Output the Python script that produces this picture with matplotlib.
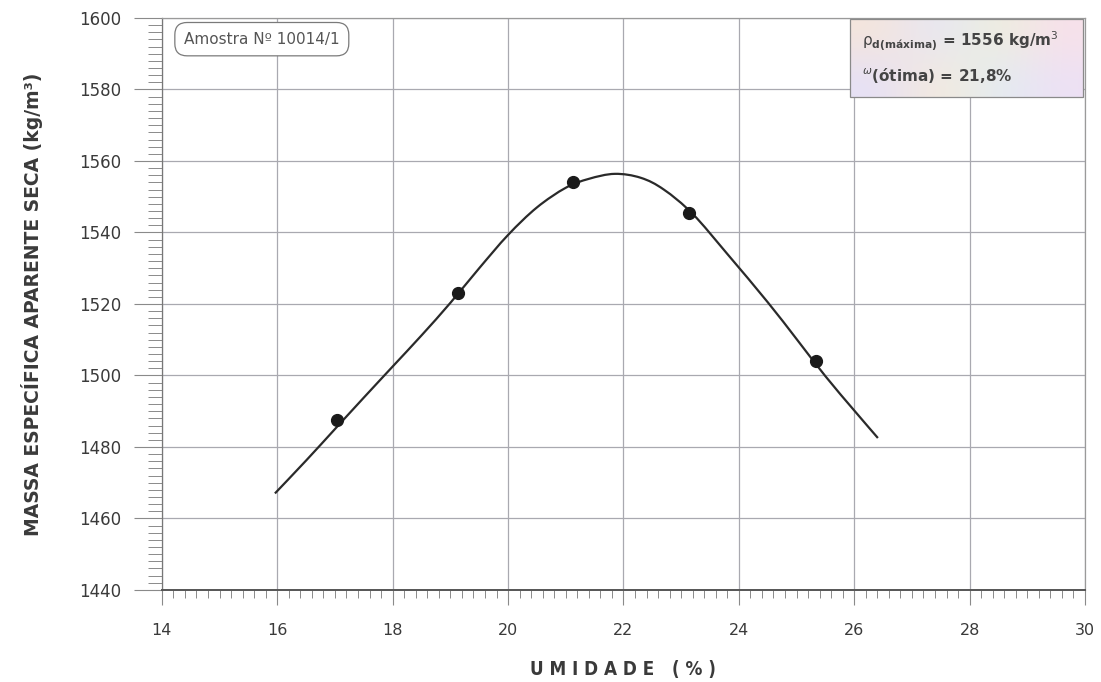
import numpy as np
import matplotlib
matplotlib.use('Agg')
import matplotlib.pyplot as plt
from matplotlib.ticker import MultipleLocator
from matplotlib.path import Path
from matplotlib.patches import PathPatch

# pontos do ensaio (umidade %, massa especifica kg/m3)
umidade = [17.03, 19.13, 21.12, 23.13, 25.33]
massa = [1487.5, 1523.0, 1554.0, 1545.5, 1504.0]

# curva de compactacao
curva_x = [15.96, 16.5, 17.0, 17.5, 18.0, 18.5, 19.0, 19.5, 20.0, 20.5, 21.0, 21.4,
           21.85, 22.3, 22.7, 23.2, 23.8, 24.5, 25.0, 25.5, 26.0, 26.41]
curva_y = [1467.0, 1476.2, 1485.0, 1493.8, 1502.5, 1511.2, 1520.3, 1530.0, 1539.3, 1547.0,
           1552.5, 1555.0, 1556.4, 1555.3, 1552.0, 1545.2, 1534.0, 1520.5, 1510.2, 1499.8,
           1490.2, 1482.5]

rho_max = 1556
w_otima = '21,8'


def suave(xs, ys):
    # desenha a curva passando pelos pontos lidos (bezier catmull-rom)
    p = np.column_stack([xs, ys])
    n = len(p)
    verts = [p[0]]
    codes = [Path.MOVETO]
    for i in range(n - 1):
        a = p[max(i - 1, 0)]
        d = p[min(i + 2, n - 1)]
        verts += [p[i] + (p[i + 1] - a) / 6, p[i + 1] - (d - p[i]) / 6, p[i + 1]]
        codes += [Path.CURVE4] * 3
    return Path(verts, codes)


txt = '#3a3a3a'
fig = plt.figure(figsize=(11.01, 6.82), dpi=100)
ax = fig.add_axes([0.147, 0.135, 0.8385, 0.8386])

ax.set_xlim(14, 30)
ax.set_ylim(1440, 1600)
ax.xaxis.set_major_locator(MultipleLocator(2))
ax.xaxis.set_minor_locator(MultipleLocator(0.2))
ax.yaxis.set_major_locator(MultipleLocator(20))
ax.yaxis.set_minor_locator(MultipleLocator(2))
ax.tick_params(axis='y', which='major', length=20, width=0.8, color='#8a8a8a', labelsize=12,
               labelcolor=txt, pad=9)
ax.tick_params(axis='y', which='minor', length=10, width=0.7, color='#8a8a8a')
ax.tick_params(axis='x', which='major', length=11, width=0.8, color='#8a8a8a', labelsize=11.5,
               labelcolor=txt, pad=13)
ax.tick_params(axis='x', which='minor', length=6, width=0.7, color='#8a8a8a')
ax.grid(which='major', color='#a9a9b0', lw=0.9)
for s in ax.spines.values():
    s.set_color('#9a9a9a')
    s.set_linewidth(0.9)
ax.spines['bottom'].set_color('#555555')
ax.spines['bottom'].set_linewidth(1.4)
ax.spines['left'].set_color('#777777')

ax.add_patch(PathPatch(suave(curva_x, curva_y), fill=False, ec='#2a2a2a', lw=1.6, zorder=3))
ax.plot(umidade, massa, 'o', color='#1a1a1a', ms=8.5, zorder=4)

ax.set_xlabel('U M I D A D E   ( % )', fontsize=13.5, fontweight='bold', color=txt,
              labelpad=16)
ax.set_ylabel('MASSA ESPECÍFICA APARENTE SECA (kg/m³)', fontsize=13.5, fontweight='bold',
              color=txt, labelpad=26)
ax.xaxis.label.set_fontstretch('condensed')

ax.text(0.024, 0.963, 'Amostra Nº 10014/1', transform=ax.transAxes, fontsize=11,
        color='#555555', va='center', ha='left',
        bbox=dict(boxstyle='round,pad=0.6,rounding_size=0.8', fc='white', ec='#7a7a7a', lw=0.9))

# caixa colorida do canto superior direito
grad = np.array([[[0.96, 0.90, 0.86], [0.90, 0.90, 0.97], [0.93, 0.94, 0.86], [0.97, 0.88, 0.92]],
                 [[0.90, 0.88, 0.97], [0.97, 0.92, 0.85], [0.88, 0.93, 0.95], [0.93, 0.88, 0.96]]])
ax.imshow(grad, extent=[0.745, 0.998, 0.862, 0.998], transform=ax.transAxes, aspect='auto',
          interpolation='bicubic', zorder=5)
ax.add_patch(plt.Rectangle((0.745, 0.862), 0.253, 0.136, transform=ax.transAxes,
                           fill=False, ec='#8a8a8a', lw=0.9, zorder=6))
ax.text(0.758, 0.96, r'$\mathrm{\rho}_{\mathbf{d(máxima)}}$' + ' = %d kg/m$^3$' % rho_max,
        transform=ax.transAxes, fontsize=11, fontweight='bold', color='#444444',
        va='center', ha='left', zorder=7)
ax.text(0.758, 0.9, r'$^{\omega}$' + '(ótima) = %s%%' % w_otima,
        transform=ax.transAxes, fontsize=11, fontweight='bold', color='#444444',
        va='center', ha='left', zorder=7)
ax.set_xlim(14, 30)
ax.set_ylim(1440, 1600)

fig.savefig('out.png', dpi=100)
